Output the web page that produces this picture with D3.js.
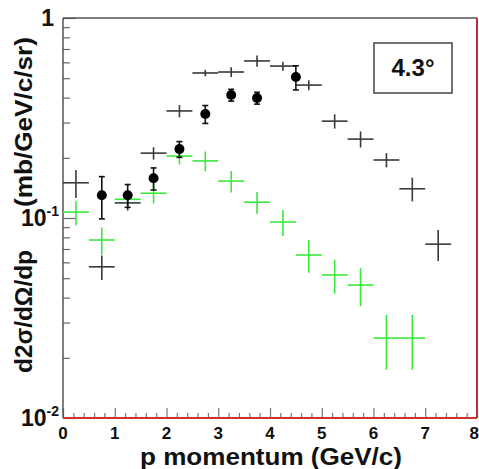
<!DOCTYPE html>
<html lang="en">
<head>
<meta charset="UTF-8">
<title>chart</title>
<script src="https://d3js.org/d3.v7.min.js"></script>
<style>
  body { margin: 0; background: #fff; }
  text { font-family: "Liberation Sans", Arial, sans-serif; font-weight: bold; fill: #111; }
</style>
</head>
<body>
<svg width="479" height="469"></svg>
<script>
// bin centres (half bin width 0.25 GeV/c)
const binHalf = 0.25;
const blackX   = [0.25, 0.75, 1.25, 1.75, 2.25, 2.75, 3.25, 3.75, 4.25, 4.75, 5.25, 5.75, 6.25, 6.75, 7.25];
const blackY   = [0.150, 0.057, 0.119, 0.211, 0.343, 0.531, 0.537, 0.610, 0.575, 0.462, 0.305, 0.248, 0.195, 0.140, 0.074];
const blackErr = [0.024, 0.008, 0.010, 0.015, 0.024, 0.020, 0.030, 0.040, 0.030, 0.027, 0.025, 0.023, 0.016, 0.019, 0.013];

const greenX   = [0.25, 0.75, 1.25, 1.75, 2.25, 2.75, 3.25, 3.75, 4.25, 4.75, 5.25, 5.75, 6.25, 6.75];
const greenY   = [0.107, 0.0776, 0.124, 0.133, 0.204, 0.193, 0.153, 0.120, 0.0955, 0.0653, 0.0519, 0.0462, 0.0251, 0.0251];
const greenErr = [0.015, 0.012, 0.009, 0.015, 0.019, 0.022, 0.019, 0.015, 0.0143, 0.012, 0.010, 0.010, 0.0077, 0.0077];

const dotX   = [0.75, 1.25, 1.75, 2.25, 2.75, 3.25, 3.75, 4.5];
const dotY   = [0.130, 0.130, 0.158, 0.221, 0.331, 0.412, 0.398, 0.507];
const dotErr = [0.031, 0.017, 0.020, 0.020, 0.034, 0.028, 0.027, 0.070];

const xTickLabels = ["0", "1", "2", "3", "4", "5", "6", "7", "8"];
const yTickValues = [1, 0.1, 0.01];
const yTickExp    = ["", "-1", "-2"];
const angleLabel  = "4.3\u00b0";

const box = {left: 63, right: 477, top: 18, bottom: 418};

const x = d3.scaleLinear().domain([0, 8]).range([box.left, box.right]);
const y = d3.scaleLog().domain([0.01, 1]).range([box.bottom, box.top]);

const svg = d3.select("svg");

// left axis, ticks pointing inside
const yAxis = d3.axisRight(y).tickSize(7).tickFormat("");
const gy = svg.append("g").attr("transform", "translate(" + box.left + ",0)").call(yAxis);
gy.select(".domain").remove();
gy.selectAll(".tick line")
  .attr("stroke", "#666")
  .attr("stroke-width", 1.2)
  .attr("x2", d => yTickValues.includes(d) ? 13 : 7);

// bottom axis, ticks pointing up
const xAxis = d3.axisTop(x).tickValues(d3.range(0, 8.001, 0.2)).tickSize(5).tickFormat("");
const gx = svg.append("g").attr("transform", "translate(0," + box.bottom + ")").call(xAxis);
gx.select(".domain").remove();
gx.selectAll(".tick line")
  .attr("stroke", "#777")
  .attr("stroke-width", 1.2)
  .attr("y2", d => Math.abs(d - Math.round(d)) < 1e-6 ? -10 : -5);

// frame
svg.append("line").attr("x1", box.left).attr("x2", box.right).attr("y1", box.top).attr("y2", box.top)
  .attr("stroke", "#555").attr("stroke-width", 1.5);
svg.append("line").attr("x1", box.left).attr("x2", box.left).attr("y1", box.top).attr("y2", box.bottom)
  .attr("stroke", "#555").attr("stroke-width", 1.5);
svg.append("line").attr("x1", box.left).attr("x2", box.right).attr("y1", box.bottom).attr("y2", box.bottom)
  .attr("stroke", "#d03030").attr("stroke-width", 2);
svg.append("line").attr("x1", box.right).attr("x2", box.right).attr("y1", box.top).attr("y2", box.bottom)
  .attr("stroke", "#c03030").attr("stroke-width", 2);

// tick labels (last one kept inside the window)
svg.append("g").selectAll("text")
  .data(xTickLabels)
  .join("text")
  .attr("x", (d, i) => i === xTickLabels.length - 1 ? 479 : x(i))
  .attr("y", 439)
  .attr("text-anchor", (d, i) => i === xTickLabels.length - 1 ? "end" : "middle")
  .attr("font-size", 17)
  .text(d => d);

const yl = svg.append("g").selectAll("text")
  .data(yTickValues)
  .join("text")
  .attr("x", (d, i) => i === 0 ? 54 : 59)
  .attr("y", d => y(d) + 8)
  .attr("text-anchor", "end")
  .attr("font-size", 23);
yl.append("tspan").text((d, i) => i === 0 ? "1" : "10");
yl.append("tspan").attr("font-size", 14).attr("dy", -10).text((d, i) => yTickExp[i]);

// axis titles
svg.append("text")
  .attr("x", 271).attr("y", 465)
  .attr("text-anchor", "middle")
  .attr("font-size", 23)
  .attr("textLength", 262).attr("lengthAdjust", "spacingAndGlyphs")
  .text("p momentum (GeV/c)");

svg.append("text")
  .attr("transform", "translate(32,373) rotate(-90)")
  .attr("font-size", 24)
  .attr("textLength", 123).attr("lengthAdjust", "spacingAndGlyphs")
  .text("d2\u03c3/d\u03a9/dp");
svg.append("text")
  .attr("transform", "translate(32,207) rotate(-90)")
  .attr("font-size", 24)
  .attr("textLength", 170).attr("lengthAdjust", "spacingAndGlyphs")
  .text("(mb/GeV/c/sr)");

// histogram-style crosses
function crosses(xs, ys, es, color) {
  const g = svg.append("g").attr("stroke", color).attr("stroke-width", 1.6);
  g.selectAll(".h").data(xs).join("line")
    .attr("x1", d => x(d - binHalf)).attr("x2", d => x(d + binHalf))
    .attr("y1", (d, i) => y(ys[i])).attr("y2", (d, i) => y(ys[i]));
  g.selectAll(".v").data(xs).join("line")
    .attr("x1", d => x(d)).attr("x2", d => x(d))
    .attr("y1", (d, i) => y(ys[i] + es[i])).attr("y2", (d, i) => y(ys[i] - es[i]));
}
crosses(greenX, greenY, greenErr, "#3be83b");
crosses(blackX, blackY, blackErr, "#3a3a3a");

// filled markers with capped error bars
const gd = svg.append("g").attr("stroke", "#111").attr("stroke-width", 1.6);
gd.selectAll(".ev").data(dotX).join("line")
  .attr("x1", d => x(d)).attr("x2", d => x(d))
  .attr("y1", (d, i) => y(dotY[i] + dotErr[i])).attr("y2", (d, i) => y(dotY[i] - dotErr[i]));
gd.selectAll(".ct").data(dotX).join("line")
  .attr("x1", d => x(d) - 3).attr("x2", d => x(d) + 3)
  .attr("y1", (d, i) => y(dotY[i] + dotErr[i])).attr("y2", (d, i) => y(dotY[i] + dotErr[i]));
gd.selectAll(".cb").data(dotX).join("line")
  .attr("x1", d => x(d) - 3).attr("x2", d => x(d) + 3)
  .attr("y1", (d, i) => y(dotY[i] - dotErr[i])).attr("y2", (d, i) => y(dotY[i] - dotErr[i]));
svg.append("g").selectAll("circle").data(dotX).join("circle")
  .attr("cx", d => x(d))
  .attr("cy", (d, i) => y(dotY[i]))
  .attr("r", 5)
  .attr("fill", "#000");

// angle label box
svg.append("rect")
  .attr("x", 374).attr("y", 43).attr("width", 78).attr("height", 50)
  .attr("fill", "#fff").attr("stroke", "#444").attr("stroke-width", 1.5);
svg.append("text")
  .attr("x", 413).attr("y", 76)
  .attr("text-anchor", "middle")
  .attr("font-size", 24)
  .text(angleLabel);
</script>
</body>
</html>
